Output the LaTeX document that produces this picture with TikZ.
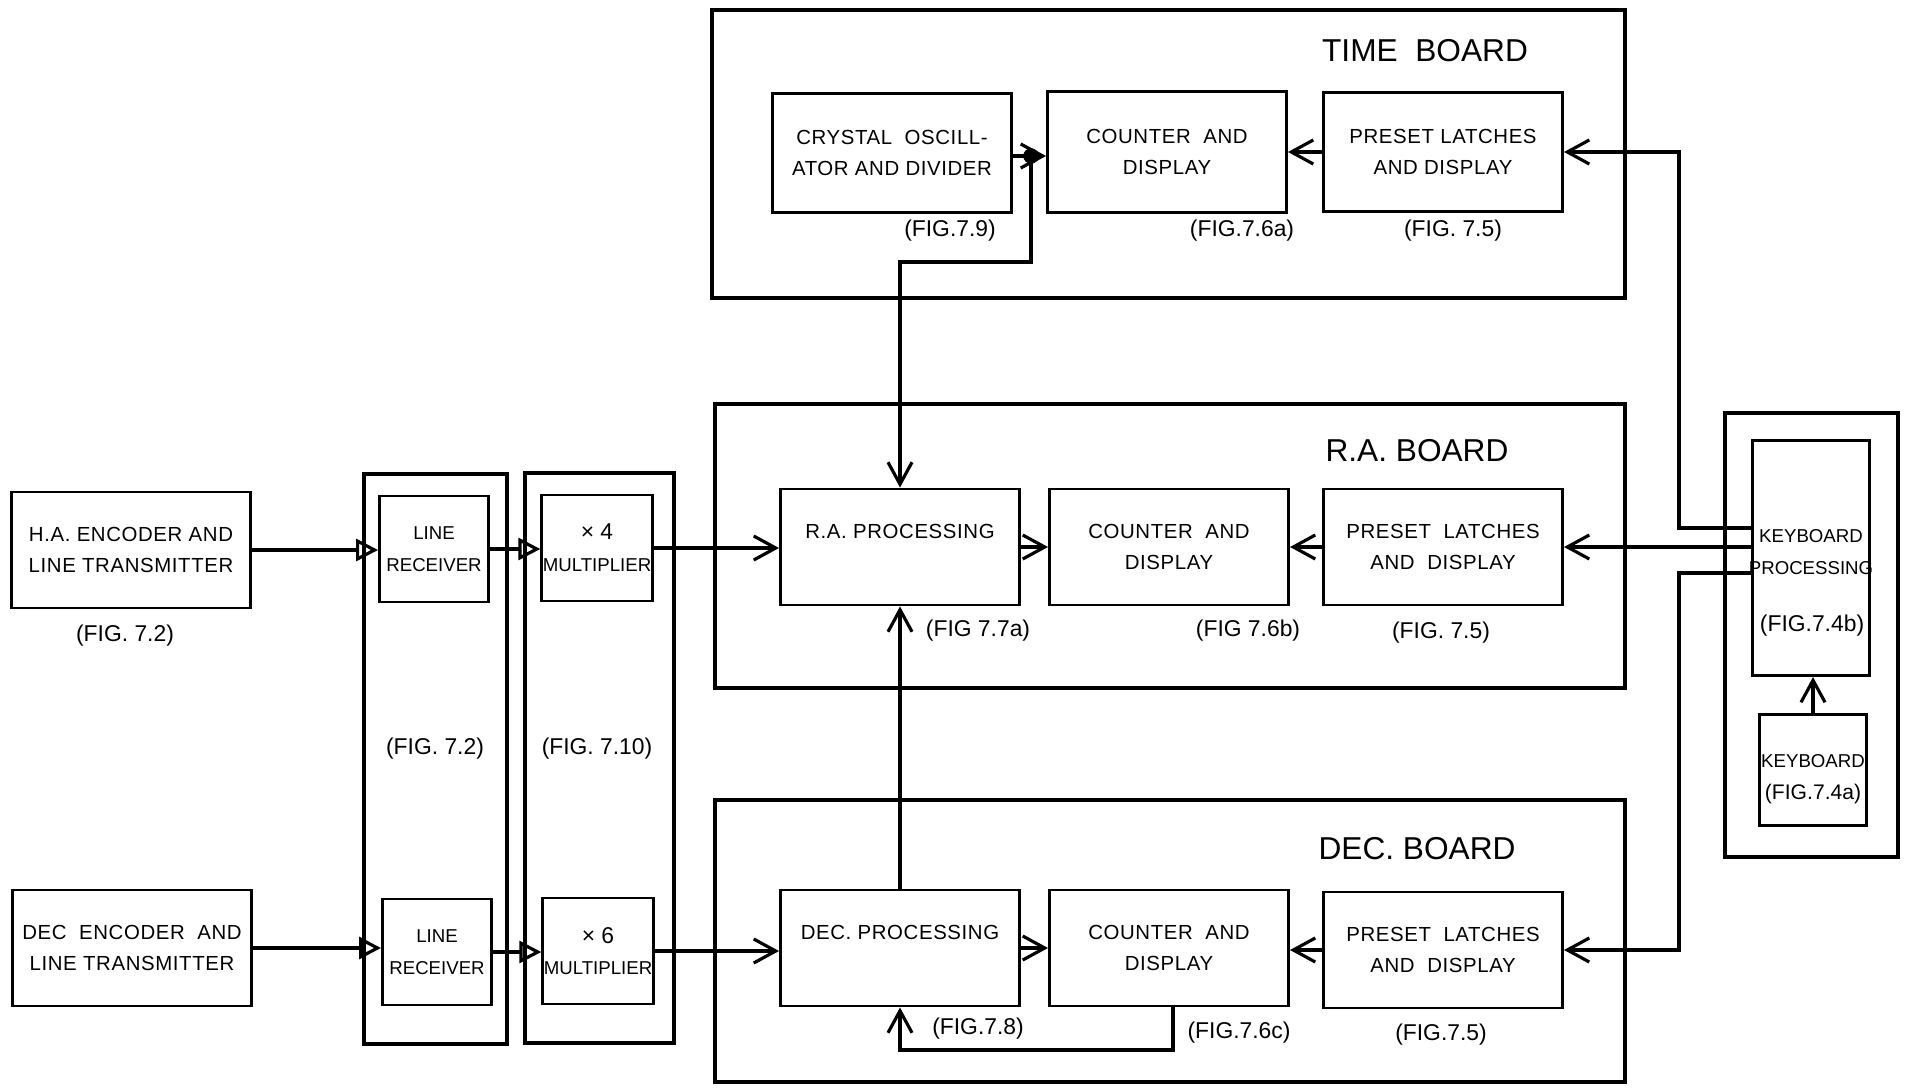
\documentclass[tikz,border=0pt]{standalone}
\usepackage{fontspec}
\setmainfont{Liberation Sans}
\usetikzlibrary{arrows.meta}

\begin{document}
\begin{tikzpicture}[x=0.01cm,y=-0.01cm,
    >={Straight Barb[length=2.2mm,width=2.4mm]},
    board/.style={draw,line width=1.1pt},   % board outlines
    txt/.style={align=center,inner sep=1pt,
      font=\fontsize{5.8}{8.8}\selectfont\addfontfeatures{LetterSpace=3}},
    ntxt/.style={align=center,inner sep=0.3pt,font=\fontsize{5.3}{9}\selectfont},
    blk/.style={txt,draw,line width=0.8pt},
    nblk/.style={ntxt,draw,line width=0.8pt},
    wide/.style={minimum width=2.39cm,minimum height=1.16cm},
    sq/.style={minimum width=1.09cm,minimum height=1.06cm},
    fig/.style={font=\fontsize{6.5}{8}\selectfont},
    title/.style={font=\fontsize{9}{11}\selectfont},
    sig/.style={line width=0.9pt},
    tri/.style={sig,-{Triangle[open,length=2.2mm,width=2.2mm]}},
  ]
  \useasboundingbox (0,0) rectangle (1910,1088);

  % ---------- boards ----------
  \draw[board] (712,10) rectangle (1625,298);    % time
  \draw[board] (715,404) rectangle (1625,688);   % r.a.
  \draw[board] (715,800) rectangle (1625,1082);  % dec.
  \draw[board] (364,474) rectangle (507,1044);   % line receivers
  \draw[board] (525,473) rectangle (674,1043);   % multipliers
  \draw[board] (1725,413) rectangle (1898,857);  % keyboard

  \node[title] (ttl) at (1425,51) {TIME\ \ BOARD};
  \node[title] (rtl) at (1417,451) {R.A.\ BOARD};
  \node[title] (dtl) at (1417,849) {DEC.\ BOARD};

  % ---------- time board ----------
  \node[blk,wide,minimum height=1.19cm] (osc) at (892,153) {CRYSTAL\ \ OSCILL-\\ATOR AND DIVIDER};
  \node[blk,wide,minimum height=1.21cm] (tcnt) at (1167,152) {COUNTER\ \ AND\\DISPLAY};
  \node[blk,wide,minimum height=1.19cm] (tpre) at (1443,152) {PRESET LATCHES\\AND DISPLAY};
  \node[fig] (f79) at (950,231) {(FIG.7.9)};
  \node[fig] (f76a) at (1242,231) {(FIG.7.6a)};
  \node[fig] (f75t) at (1453,231) {(FIG. 7.5)};

  % ---------- r.a. board ----------
  \node[blk,wide] (rproc) at (900,547) {R.A. PROCESSING\\ \mbox{}};
  \node[blk,wide] (rcnt) at (1169,547) {COUNTER\ \ AND\\DISPLAY};
  \node[blk,wide] (rpre) at (1443,547) {PRESET\ \ LATCHES\\AND\ \ DISPLAY};
  \node[fig] (f77a) at (978,631) {(FIG 7.7a)};
  \node[fig] (f76b) at (1248,631) {(FIG 7.6b)};
  \node[fig] (f75r) at (1441,633) {(FIG. 7.5)};

  % ---------- dec. board ----------
  \node[blk,wide] (dproc) at (900,948) {DEC. PROCESSING\\ \mbox{}};
  \node[blk,wide] (dcnt) at (1169,948) {COUNTER\ \ AND\\DISPLAY};
  \node[blk,wide] (dpre) at (1443,950) {PRESET\ \ LATCHES\\AND\ \ DISPLAY};
  \node[fig] (f78) at (978,1029) {(FIG.7.8)};
  \node[fig] (f76c) at (1239,1033) {(FIG.7.6c)};
  \node[fig] (f75d) at (1441,1035) {(FIG.7.5)};

  % ---------- encoders, receivers, multipliers ----------
  \node[blk,wide] (haenc) at (131,550) {H.A. ENCODER AND\\LINE TRANSMITTER};
  \node[blk,wide] (decenc) at (132,948) {DEC\ \ ENCODER\ \ AND\\LINE TRANSMITTER};
  \node[fig] (f72a) at (125,636) {(FIG. 7.2)};
  \node[nblk,sq] (rcv1) at (434,549) {LINE\\RECEIVER};
  \node[nblk,sq] (rcv2) at (437,952) {LINE\\RECEIVER};
  \node[nblk,sq] (mul1) at (597,548) {{\fontsize{6.5}{9}\selectfont × 4}\\MULTIPLIER};
  \node[nblk,sq] (mul2) at (598,951) {{\fontsize{6.5}{9}\selectfont × 6}\\MULTIPLIER};
  \node[fig] (f72b) at (435,749) {(FIG. 7.2)};
  \node[fig] (f710) at (597,749) {(FIG. 7.10)};

  % ---------- keyboard ----------
  \node[draw,line width=0.8pt,minimum width=1.17cm,minimum height=2.35cm] (kproc) at (1811,558) {};
  \node[ntxt] (kptxt) at (1811,552) {KEYBOARD\\PROCESSING};
  \node[fig] (kpfig) at (1812,626) {(FIG.7.4b)};
  \node[nblk,minimum width=1.07cm,minimum height=1.11cm] (kbd) at (1813,770) {\mbox{}\\KEYBOARD\\{\fontsize{6}{9}\selectfont(FIG.7.4a)}};

  % ---------- connectors ----------
  \coordinate (jn) at (1031,156);
  \coordinate (jb) at (1031,262);
  \draw[sig,->] (osc.east |- jn) -- (tcnt.west |- jn);
  \fill (jn) circle[radius=2.2pt];
  \draw[sig,->] (jn) -- (jb) -| (rproc.north);
  \draw[sig,->] (tpre.west) -- (tpre.west -| tcnt.east);

  \coordinate (kt) at (1679,528);
  \coordinate (kd) at (1679,573);
  \draw[sig,->] (kproc.west |- kt) -- (kt) |- (tpre.east);
  \draw[sig,->] (kproc.west |- rpre.east) -- (rpre.east);
  \draw[sig,->] (kproc.west |- kd) -- (kd) |- (dpre.east);
  \draw[sig,->] (kbd.north) -- (kbd.north |- kproc.south);

  \draw[tri] (haenc.east) -- (haenc.east -| rcv1.west);
  \draw[tri] (rcv1.east) -- (rcv1.east -| mul1.west);
  \draw[sig,->] (mul1.east) -- (mul1.east -| rproc.west);
  \draw[sig,->] (rproc.east) -- (rproc.east -| rcnt.west);
  \draw[sig,->] (rpre.west) -- (rpre.west -| rcnt.east);

  \draw[tri] (decenc.east) -- (decenc.east -| rcv2.west);
  \draw[tri] (rcv2.east) -- (rcv2.east -| mul2.west);
  \draw[sig,->] (mul2.east) -- (mul2.east -| dproc.west);
  \draw[sig,->] (dproc.east) -- (dproc.east -| dcnt.west);
  \draw[sig,->] (dpre.west) -- (dpre.west -| dcnt.east);

  \draw[sig,->] (dproc.north) -- (rproc.south);
  \coordinate (fb) at (1173,1050);
  \draw[sig,->] (dcnt.south -| fb) -- (fb) -| (dproc.south);
\end{tikzpicture}
\end{document}
